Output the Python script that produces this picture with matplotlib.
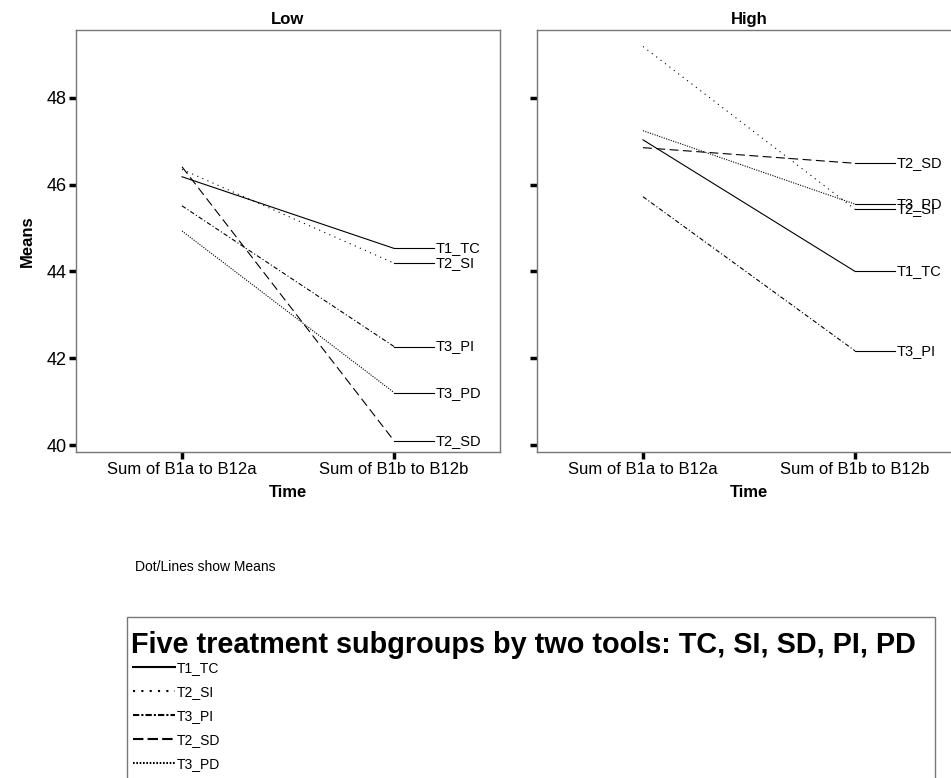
import matplotlib.pyplot as plt
from matplotlib.lines import Line2D
from matplotlib.patches import Rectangle

plt.rcParams['font.family'] = ['Liberation Sans', 'DejaVu Sans']

# data
times = ["Sum of B1a to B12a", "Sum of B1b to B12b"]
groups = ["T1_TC", "T2_SI", "T3_PI", "T2_SD", "T3_PD"]
low = {
    "T1_TC": [46.18, 44.53],
    "T2_SI": [46.35, 44.19],
    "T3_PI": [45.51, 42.27],
    "T2_SD": [46.41, 40.10],
    "T3_PD": [44.93, 41.21],
}
high = {
    "T1_TC": [47.03, 44.00],
    "T2_SI": [49.18, 45.43],
    "T3_PI": [45.72, 42.17],
    "T2_SD": [46.85, 46.49],
    "T3_PD": [47.24, 45.55],
}
styles = {
    "T1_TC": "-",
    "T2_SI": (0, (1, 4)),
    "T3_PI": (0, (4, 2, 1, 2)),
    "T2_SD": (0, (8, 4)),
    "T3_PD": (0, (1, 1.2)),
}
leg_styles = {
    "T1_TC": "-",
    "T2_SI": (0, (1, 3)),
    "T3_PI": (0, (3, 1, 1, 1)),
    "T2_SD": (0, (5, 2)),
    "T3_PD": (0, (0.8, 0.8)),
}

fig = plt.figure(figsize=(9.51, 7.78), dpi=100)
ax1 = fig.add_axes([76/951, 1-452/778, 424/951, 422/778])
ax2 = fig.add_axes([537/951, 1-452/778, 424/951, 422/778])

for ax, data, title in [(ax1, low, "Low"), (ax2, high, "High")]:
    for g in groups:
        y = data[g]
        ax.plot([0, 1], y, color="black", lw=0.8, linestyle=styles[g])
        # end connector + label
        ax.plot([1, 1.19], [y[1], y[1]], color="black", lw=0.8)
        ax.text(1.195, y[1], g, fontsize=10.5, va="center", ha="left")
    ax.set_xlim(-0.5, 1.5)
    ax.set_ylim(39.84, 49.56)
    ax.set_xticks([0, 1])
    ax.set_xticklabels(times, fontsize=12)
    ax.set_yticks([40, 42, 44, 46, 48])
    ax.tick_params(axis="both", direction="out", length=5, width=2.5, color="black", pad=2)
    ax.set_xlabel("Time", fontsize=12, fontweight="bold", labelpad=6)
    ax.set_title(title, fontsize=12, fontweight="bold", pad=4)
    for sp in ax.spines.values():
        sp.set_color("#777777")
        sp.set_linewidth(1)

ax1.set_yticklabels(["40", "42", "44", "46", "48"], fontsize=13)
ax2.set_yticklabels([])
ax1.set_ylabel("Means", fontsize=12, fontweight="bold", labelpad=8)

fig.text(135/951, 1-567/778, "Dot/Lines show Means", fontsize=10, va="center", ha="left")

# legend box, title and entries
fig.patches.append(Rectangle((127/951, 1-790/778), 808/951, 173/778,
                             transform=fig.transFigure, fill=False,
                             edgecolor="#777777", lw=1))
fig.text(131/951, 1-645/778, "Five treatment subgroups by two tools: TC, SI, SD, PI, PD",
         fontsize=20.8, fontweight="bold", va="center", ha="left")
handles = [Line2D([], [], color="black", lw=1.5, linestyle=leg_styles[g]) for g in groups]
leg = fig.legend(handles, groups, loc="upper left",
                 bbox_to_anchor=(133/951, 1-661/778),
                 fontsize=10, frameon=False, handlelength=3.0, handletextpad=0.15,
                 labelspacing=0.72, borderpad=0, borderaxespad=0)

fig.savefig("out.png", dpi=100)
